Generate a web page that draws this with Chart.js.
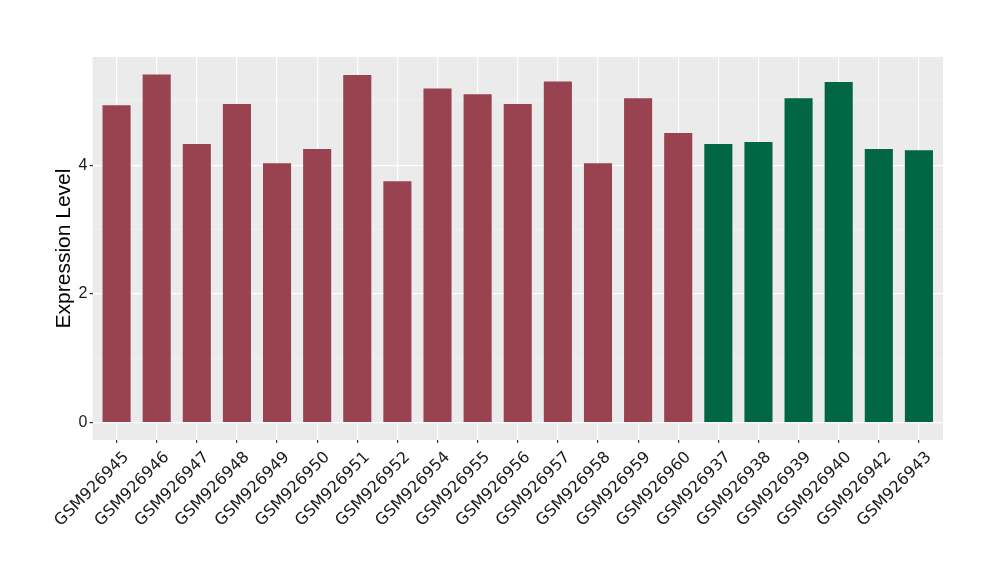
<!DOCTYPE html>
<html>
<head>
<meta charset="utf-8">
<script src="https://cdn.jsdelivr.net/npm/chart.js@4/dist/chart.umd.min.js"></script>
<style>
    html, body { margin: 0; padding: 0; background: #ffffff; }
    #wrap { width: 1000px; height: 580px; position: relative; }
</style>
</head>
<body>
<div id="wrap"><canvas id="chart" width="1000" height="580"></canvas></div>
<script>
// 样本名称
const samples = ['GSM926945', 'GSM926946', 'GSM926947', 'GSM926948', 'GSM926949', 'GSM926950',
    'GSM926951', 'GSM926952', 'GSM926954', 'GSM926955', 'GSM926956', 'GSM926957', 'GSM926958',
    'GSM926959', 'GSM926960', 'GSM926937', 'GSM926938', 'GSM926939', 'GSM926940', 'GSM926942', 'GSM926943'];

// 表达量
const expression = [4.93, 5.41, 4.33, 4.95, 4.03, 4.25, 5.40, 3.75, 5.19, 5.10, 4.95, 5.30, 4.03,
    5.04, 4.50, 4.33, 4.36, 5.04, 5.29, 4.25, 4.23];

// 分组 (0 = 红, 1 = 绿)
const groups = [0, 0, 0, 0, 0, 0, 0, 0, 0, 0, 0, 0, 0, 0, 0, 1, 1, 1, 1, 1, 1];

// y 轴刻度
const yTicks = [0, 1, 2, 3, 4, 5];
const yLabelled = [0, 2, 4];

const groupColors = ['#994250', '#006644'];

// 面板灰色背景
const panelBg = {
    id: 'panelBg',
    beforeDraw(chart) {
        const a = chart.chartArea;
        const ctx = chart.ctx;
        ctx.save();
        ctx.fillStyle = '#EBEBEB';
        ctx.fillRect(a.left, a.top, a.right - a.left, a.bottom - a.top);
        ctx.restore();
    }
};

new Chart(document.getElementById('chart'), {
    type: 'bar',
    data: {
        datasets: [{
            data: expression.map((v, i) => ({ x: i, y: v })),
            backgroundColor: groups.map(g => groupColors[g]),
            borderWidth: 0,
            barPercentage: 0.7,
            categoryPercentage: 1.0
        }]
    },
    options: {
        responsive: false,
        animation: false,
        layout: {
            padding: { top: 57, right: 57, bottom: 0, left: 48 }
        },
        plugins: {
            legend: { display: false },
            tooltip: { enabled: false }
        },
        scales: {
            x: {
                type: 'linear',
                min: -0.6,
                max: samples.length - 0.4,
                offset: false,
                afterFit(scale) { scale.height = 140; },
                afterBuildTicks(scale) {
                    scale.ticks = samples.map((s, i) => ({ value: i }));
                },
                border: { display: false },
                grid: {
                    offset: false,
                    color: '#ffffff',
                    lineWidth: 1.2,
                    tickColor: '#333333',
                    tickLength: 3
                },
                ticks: {
                    autoSkip: false,
                    minRotation: 45,
                    maxRotation: 45,
                    padding: 5,
                    labelOffset: 10,
                    color: '#1a1a1a',
                    font: { family: 'DejaVu Sans', size: 16 },
                    callback: function(value) {
                        return samples[value];
                    }
                }
            },
            y: {
                min: -0.27,
                max: 5.68,
                afterFit(scale) { scale.width = 44.5; },
                afterBuildTicks(scale) {
                    scale.ticks = yTicks.map(v => ({ value: v }));
                },
                border: { display: false },
                grid: {
                    color: ctx => yLabelled.includes(ctx.tick.value) ? '#ffffff' : '#F5F5F5',
                    lineWidth: ctx => yLabelled.includes(ctx.tick.value) ? 1.2 : 0.6,
                    tickColor: ctx => yLabelled.includes(ctx.tick.value) ? '#333333' : 'rgba(0,0,0,0)',
                    tickLength: 3
                },
                ticks: {
                    padding: 2,
                    color: '#1a1a1a',
                    font: { family: 'Liberation Sans', size: 16 },
                    callback: function(value) {
                        return yLabelled.includes(value) ? String(value) : '';
                    }
                },
                title: {
                    display: true,
                    text: 'Expression Level',
                    color: '#000000',
                    padding: { top: 4, bottom: 0 },
                    font: { family: 'Liberation Sans', size: 21 }
                }
            }
        }
    },
    plugins: [panelBg]
});
</script>
</body>
</html>
